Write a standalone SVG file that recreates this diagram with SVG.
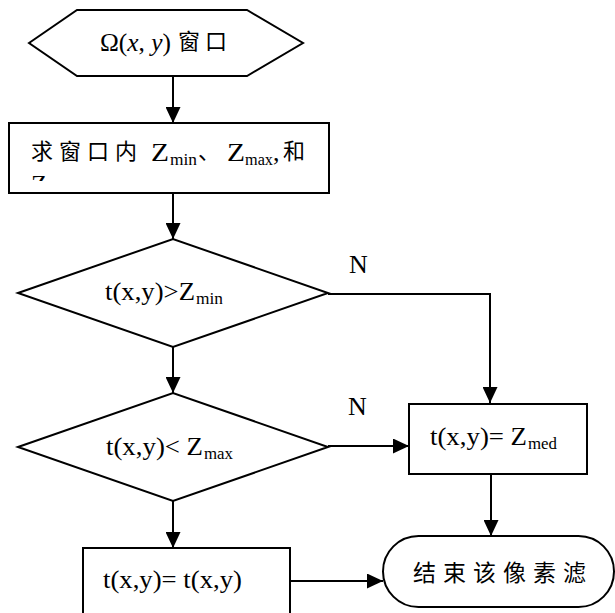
<svg xmlns="http://www.w3.org/2000/svg" width="615" height="613" viewBox="0 0 615 613">
<style>
.s{fill:#fff;stroke:#000;stroke-width:2}
.c{fill:none;stroke:#000;stroke-width:2}
.t{font-family:"Liberation Serif","Times New Roman",serif;font-size:26px;fill:#000}
.sub{font-family:"Liberation Serif","Times New Roman",serif;font-size:17px;fill:#000}
.cjk{font-family:"Noto Sans CJK SC","Noto Sans CJK JP",sans-serif;font-size:22px;letter-spacing:5px;fill:#000}
.it{font-style:italic}
</style>
<defs>
<marker id="ah" markerUnits="userSpaceOnUse" viewBox="0 0 16 15" refX="16" refY="7.5" markerWidth="16" markerHeight="15" orient="auto">
<path d="M0,0 L16,7.5 L0,15 z" fill="#000"/>
</marker>
<clipPath id="clip1"><rect x="10" y="124" width="318" height="57"/></clipPath>
</defs>
<rect width="615" height="613" fill="#fff"/>
<g id="connectors">
<path class="c" d="M173,76 V123" marker-end="url(#ah)"/>
<path class="c" d="M173,193 V239" marker-end="url(#ah)"/>
<path class="c" d="M173,347 V393" marker-end="url(#ah)"/>
<path class="c" d="M328,294 H490 V403" marker-end="url(#ah)"/>
<path class="c" d="M328,446 H409" marker-end="url(#ah)"/>
<path class="c" d="M173,501 V548" marker-end="url(#ah)"/>
<path class="c" d="M491,474 V536" marker-end="url(#ah)"/>
<path class="c" d="M290,581 H383" marker-end="url(#ah)"/>
<text class="t" x="349" y="273">N</text>
<text class="t" x="348" y="415">N</text>
</g>
<g id="start">
<polygon class="s" points="29,43 77,10 247,10 303,43 247,76 77,76"/>
<text class="t" y="51" x="100" textLength="71" lengthAdjust="spacingAndGlyphs">Ω(<tspan class="it">x</tspan>, <tspan class="it">y</tspan>)</text>
<text class="cjk" x="178" y="49">窗口</text>
</g>
<g id="compute">
<rect class="s" x="9" y="123" width="320" height="70"/>
<g clip-path="url(#clip1)">
<text class="cjk" x="31" y="159" style="letter-spacing:6px">求窗口内</text>
<text class="t" x="151" y="161" textLength="18" lengthAdjust="spacingAndGlyphs">Z</text>
<text class="sub" x="170" y="165" textLength="27" lengthAdjust="spacingAndGlyphs">min</text>
<text class="cjk" x="198" y="159">、</text>
<text class="t" x="227" y="161" textLength="18" lengthAdjust="spacingAndGlyphs">Z</text>
<text class="sub" x="245" y="165" textLength="28" lengthAdjust="spacingAndGlyphs">max</text>
<text class="t" x="273" y="161">,</text>
<text class="cjk" x="283" y="159">和</text>
<text class="t" x="31" y="193">Z</text>
</g>
</g>
<g id="cond1">
<polygon class="s" points="18,293 173,239 328,293 173,347"/>
<text class="t" x="105" y="300" textLength="90" lengthAdjust="spacingAndGlyphs">t(x,y)&gt;Z</text>
<text class="sub" x="196" y="304" textLength="27" lengthAdjust="spacingAndGlyphs">min</text>
</g>
<g id="cond2">
<polygon class="s" points="18,447 173,393 328,447 173,501"/>
<text class="t" x="106" y="455" textLength="97" lengthAdjust="spacingAndGlyphs">t(x,y)&lt; Z</text>
<text class="sub" x="204" y="459" textLength="29" lengthAdjust="spacingAndGlyphs">max</text>
</g>
<g id="setmed">
<rect class="s" x="409" y="404" width="178" height="70"/>
<text class="t" x="430" y="445" textLength="97" lengthAdjust="spacingAndGlyphs">t(x,y)= Z</text>
<text class="sub" x="528" y="449" textLength="29" lengthAdjust="spacingAndGlyphs">med</text>
</g>
<g id="keep">
<rect class="s" x="83" y="548" width="207" height="80"/>
<text class="t" x="103" y="588" textLength="139" lengthAdjust="spacingAndGlyphs">t(x,y)= t(x,y)</text>
</g>
<g id="end">
<rect class="s" x="383" y="536" width="231" height="71" rx="35.5" ry="35.5"/>
<text class="cjk" x="413" y="581" style="font-size:23px;letter-spacing:7px">结束该像素滤</text>
</g>
</svg>
